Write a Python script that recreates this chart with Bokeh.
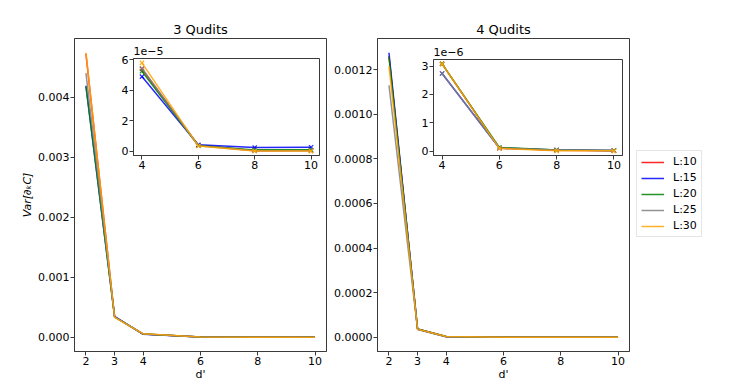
import numpy as np
from bokeh.plotting import figure
from bokeh.layouts import row, column
from bokeh.models import (FixedTicker, NumeralTickFormatter, CustomJSTickFormatter,
                          Range1d, Legend, LegendItem)
from bokeh.embed import file_html
from bokeh.resources import INLINE

# ---------------- data ----------------
d_vals = [2, 3, 4, 6, 8, 10]
series_labels = ["L:10", "L:15", "L:20", "L:25", "L:30"]
series_colors = ["red", "blue", "green", "gray", "orange"]

# 3 Qudits
q3_L10 = [0.00472, 0.00034, 5.40e-5, 3.8e-6, 0.2e-6, 0.4e-6]
q3_L15 = [0.00419, 0.00035, 4.90e-5, 4.1e-6, 2.3e-6, 2.5e-6]
q3_L20 = [0.00418, 0.00034, 5.25e-5, 3.7e-6, 0.8e-6, 0.8e-6]
q3_L25 = [0.00440, 0.00034, 5.45e-5, 3.5e-6, 0.3e-6, 0.2e-6]
q3_L30 = [0.00474, 0.00033, 5.80e-5, 3.3e-6, 0.1e-6, 0.0]

# 4 Qudits
q4_L10 = [0.001260, 3.7e-5, 3.08e-6, 1.0e-7, 3e-8, 1.5e-8]
q4_L15 = [0.001276, 3.6e-5, 2.74e-6, 1.1e-7, 4e-8, 2e-8]
q4_L20 = [0.001258, 3.7e-5, 3.08e-6, 1.3e-7, 4e-8, 2e-8]
q4_L25 = [0.001130, 3.5e-5, 2.74e-6, 1.1e-7, 4e-8, 2e-8]
q4_L30 = [0.001216, 3.6e-5, 3.08e-6, 1.0e-7, 1e-8, 1e-8]

main_xticks = [2, 3, 4, 6, 8, 10]
inset_xticks = [4, 6, 8, 10]
q3_yticks = [0.0, 0.001, 0.002, 0.003, 0.004]
q4_yticks = [0.0, 0.0002, 0.0004, 0.0006, 0.0008, 0.0010, 0.0012]
q3_inset_yticks = [0.0, 2e-5, 4e-5, 6e-5]
q4_inset_yticks = [0.0, 1e-6, 2e-6, 3e-6]

q3 = [q3_L10, q3_L15, q3_L20, q3_L25, q3_L30]
q4 = [q4_L10, q4_L15, q4_L20, q4_L25, q4_L30]

FONT = "DejaVu Sans"
TICK_FS = "11px"
FRAME = "#3a3a3a"


def pad_range(vals, frac=0.05):
    lo, hi = float(np.min(vals)), float(np.max(vals))
    span = hi - lo
    return Range1d(lo - frac * span, hi + frac * span)


def style(p):
    p.background_fill_color = "white"
    p.outline_line_color = FRAME
    p.outline_line_width = 1
    p.xgrid.visible = False
    p.ygrid.visible = False
    p.title.text_color = "black"
    for ax in (p.xaxis[0], p.yaxis[0]):
        ax.axis_line_color = FRAME
        ax.major_tick_line_color = FRAME
        ax.major_tick_in = 0
        ax.major_tick_out = 4
        ax.minor_tick_line_color = None
        ax.major_label_text_font = FONT
        ax.major_label_text_font_size = TICK_FS
        ax.major_label_text_color = "black"
        ax.major_label_standoff = 1
        ax.axis_label_text_font = FONT
        ax.axis_label_text_font_size = TICK_FS
        ax.axis_label_text_font_style = "normal"
        ax.axis_label_text_color = "black"


def main_panel(title, data, yticks, fmt, width, mb_left, mb_right):
    allv = np.concatenate([np.asarray(v) for v in data])
    p = figure(width=width, height=386, output_backend="svg", toolbar_location=None,
               x_range=pad_range(np.asarray(d_vals)), y_range=pad_range(np.append(allv, 0.0)),
               min_border_left=mb_left, min_border_right=mb_right,
               min_border_top=38, min_border_bottom=35)
    p.title.text = title
    p.title.align = "center"
    p.title.text_font = FONT
    p.title.text_font_size = "13px"
    p.title.text_font_style = "normal"
    p.title.standoff = 3
    style(p)
    p.xaxis.ticker = FixedTicker(ticks=main_xticks)
    p.yaxis.ticker = FixedTicker(ticks=yticks)
    p.yaxis.formatter = NumeralTickFormatter(format=fmt)
    p.xaxis.axis_label = "d'"
    p.xaxis.axis_label_standoff = 0
    renderers = []
    for vals, c in zip(data, series_colors):
        r = p.line(d_vals, vals, line_color=c, line_width=1.5, line_alpha=0.85)
        renderers.append(r)
    return p, renderers


INSET_TOP = 22


def inset_panel(data, yticks, scale, fw, fh):
    sub = [np.asarray(v)[2:] for v in data]
    allv = np.concatenate(sub)
    p = figure(width=24 + fw + 8, height=INSET_TOP + fh + 22, output_backend="svg",
               toolbar_location=None,
               x_range=pad_range(np.asarray(inset_xticks)), y_range=pad_range(np.append(allv, 0.0)),
               min_border_left=24, min_border_right=8, min_border_top=INSET_TOP,
               min_border_bottom=22)
    p.border_fill_alpha = 0
    style(p)
    p.title.text = "1e\u2212%d" % scale
    p.title.align = "left"
    p.title.text_font = FONT
    p.title.text_font_size = TICK_FS
    p.title.text_font_style = "normal"
    p.title.standoff = 8
    p.xaxis.ticker = FixedTicker(ticks=inset_xticks)
    p.yaxis.ticker = FixedTicker(ticks=yticks)
    p.yaxis.formatter = CustomJSTickFormatter(
        code="return (tick * Math.pow(10, %d)).toFixed(0);" % scale)
    xs = d_vals[2:]
    for vals, c in zip(sub, series_colors):
        p.line(xs, vals, line_color=c, line_width=1.5, line_alpha=0.85)
        p.scatter(xs, vals, marker="x", size=6, line_color=c, line_width=1.2, line_alpha=0.85)
    return p


p1, r1 = main_panel("3 Qudits", q3, q3_yticks, "0.000", 328, 74, 2)
p1.yaxis.axis_label = "Var[\u2202\u2096C]"
p1.yaxis.axis_label_text_font_style = "italic"
p1.yaxis.axis_label_standoff = 1

p2, r2 = main_panel("4 Qudits", q4, q4_yticks, "0.0000", 303, 49, 2)

# legend panel: a bare figure to the right of the 4-Qudits axes; its key lines hold the
# 4-Qudits series but lie outside its (empty) view, so only the legend shows
p3 = figure(width=106, height=386, output_backend="svg", toolbar_location=None,
            x_axis_type=None, y_axis_type=None, min_border=0,
            x_range=Range1d(0, 1), y_range=Range1d(1, 2))
p3.outline_line_color = None
p3.xgrid.visible = False
p3.ygrid.visible = False
p3.background_fill_color = "white"
key_renderers = [p3.line(d_vals, vals, line_color=c, line_width=1.5, line_alpha=0.85)
                 for vals, c in zip(q4, series_colors)]

legend = Legend(items=[LegendItem(label=l, renderers=[r]) for l, r in zip(series_labels, key_renderers)],
                location=(5, 114), orientation="vertical")
legend.label_text_font = FONT
legend.label_text_font_size = TICK_FS
legend.label_text_color = "black"
legend.glyph_width = 23
legend.glyph_height = 12
legend.label_standoff = 9
legend.label_height = 12
legend.spacing = 3
legend.padding = 4
legend.margin = 0
legend.border_line_color = "#cccccc"
legend.border_line_width = 1
legend.background_fill_color = "white"
legend.background_fill_alpha = 1
p3.add_layout(legend)

in1 = inset_panel(q3, q3_inset_yticks, 5, 186, 97)
in2 = inset_panel(q4, q4_inset_yticks, 6, 189, 96)
in1.margin = (58 - INSET_TOP, 0, 0, 109)
in2.margin = (59 - INSET_TOP, 0, 0, 409 - 109 - in1.width)

main_row = row(p1, p2, p3)
inset_row = row(in1, in2)
inset_row.styles = {"position": "absolute", "left": "0px", "top": "0px"}

layout = column(main_row, inset_row)
layout.styles = {"position": "relative"}

open("out.html", "w").write(file_html(layout, INLINE))
